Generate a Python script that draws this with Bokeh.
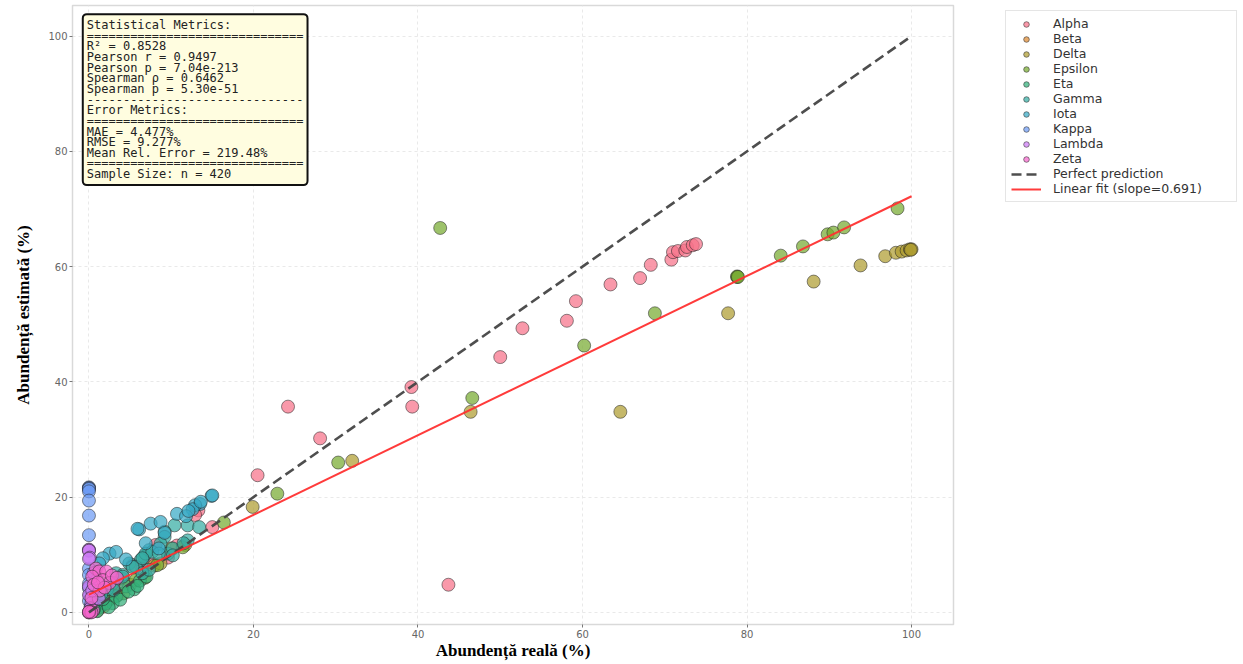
from bokeh.plotting import figure
from bokeh.models import Legend, LegendItem, Label, Range1d, FixedTicker
from bokeh.layouts import row
from bokeh.embed import file_html
from bokeh.resources import INLINE
from bokeh.core.properties import value

# ---------------- data ----------------
categories = ["Alpha", "Beta", "Delta", "Epsilon", "Eta", "Gamma", "Iota", "Kappa", "Lambda", "Zeta"]
colors = ["#f77189", "#dc8932", "#ae9d31", "#77ab31", "#33b07a", "#36ada4", "#38a9c5", "#6e9bf4", "#cc7af4", "#f565cc"]

alpha_x = [43.7, 24.2, 20.5, 28.1, 39.2, 39.3, 50.0, 52.7, 58.1, 59.2, 63.4, 67.0, 68.3, 70.8, 71.0, 71.6, 72.5, 72.7,
           73.4, 73.8, 15.0, 13.3, 12.9, 8.1, 5.3, 6.5, 9.6, 3.3, 2.0, 1.2, 4.0, 0.8, 10.7, 7.2, 0.3, 1.5]
alpha_y = [4.8, 35.7, 23.8, 30.2, 39.1, 35.7, 44.3, 49.3, 50.6, 54.0, 56.9, 58.0, 60.3, 61.2, 62.5, 62.7, 62.8, 63.4,
           63.7, 63.9, 14.8, 17.7, 16.9, 11.7, 8.2, 7.6, 9.5, 4.6, 3.1, 2.2, 5.9, 1.4, 11.6, 8.7, 0.9, 4.1]

beta_x = [0.5, 1.8, 2.6, 0.2, 3.5, 1.0]
beta_y = [1.2, 1.0, 2.3, 0.4, 3.0, 0.3]

delta_x = [46.4, 64.6, 77.7, 88.1, 93.8, 96.8, 98.1, 98.8, 99.4, 99.8, 100.0, 99.9, 19.9, 32.0, 10.0, 5.0, 3.0,
           7.9, 11.7, 8.7]
delta_y = [34.8, 34.8, 51.9, 57.4, 60.2, 61.8, 62.4, 62.6, 62.8, 63.0, 63.0, 62.9, 18.3, 26.3, 11.1, 4.8, 3.6,
           8.1, 11.7, 8.5]

epsilon_x = [42.7, 46.6, 60.2, 68.8, 78.8, 78.8, 78.9, 84.1, 86.8, 89.8, 90.5, 91.8, 98.3, 22.9, 16.4, 30.3,
             11.4, 8.3, 5.7, 2.8, 1.5, 4.2, 6.8]
epsilon_y = [66.7, 37.2, 46.3, 51.9, 58.2, 58.3, 58.2, 61.9, 63.5, 65.6, 65.9, 66.8, 70.1, 20.6, 15.6, 26.0,
             11.3, 8.2, 5.6, 2.5, 1.2, 3.3, 6.0]

eta_x = [4.5, 3.3, 2.9, 1.2, 2.0, 5.5, 6.2, 7.0, 3.8, 1.0, 0.6, 4.8, 2.4, 5.9, 1.7]
eta_y = [4.5, 2.8, 1.6, 0.8, 1.5, 4.0, 5.5, 6.2, 2.2, 0.2, 0.5, 3.6, 0.9, 4.6, 2.3]

gamma_x = [12.0, 13.4, 10.4, 9.2, 9.2, 12.0, 8.7, 9.6, 7.3, 6.7, 6.3, 4.9, 5.7, 3.3, 4.1, 6.5, 7.3, 6.9, 7.7,
           8.5, 10.2, 10.2, 6.5, 5.3, 4.1, 2.9, 2.2, 1.5, 3.0, 11.5]
gamma_y = [15.1, 14.8, 15.1, 14.0, 13.1, 12.5, 11.9, 10.2, 10.8, 9.7, 9.1, 8.5, 7.9, 6.8, 6.5, 6.8, 7.4, 10.2,
           10.5, 10.2, 11.1, 9.9, 9.4, 7.9, 6.2, 5.1, 4.0, 3.2, 3.9, 12.0]

iota_x = [14.9, 15.0, 13.5, 12.9, 12.6, 10.7, 11.8, 7.5, 8.7, 6.1, 5.9, 2.5, 1.7, 1.25, 3.3, 8.5, 9.2, 13.6,
          12.1, 0.8, 4.5, 6.9]
iota_y = [20.2, 20.3, 18.8, 18.6, 17.9, 17.1, 16.7, 15.4, 15.7, 14.4, 14.5, 10.2, 9.4, 8.5, 10.5, 11.1, 13.8,
          19.2, 17.6, 7.0, 9.2, 12.0]

kappa_x = [0.0, 0.0, 0.0, 0.0, 0.0, 0.0, 0.0, 0.0, 0.0, 0.0, 0.0, 0.1, 0.0, 0.2, 0.0]
kappa_y = [21.7, 21.6, 21.5, 21.4, 21.0, 19.4, 16.8, 13.4, 7.6, 6.5, 5.0, 3.0, 2.0, 1.0, 4.2]

lambda_x = [0.0, 0.0, 0.0, 0.1, 0.0, 0.0, 0.0, 0.3, 0.9, 0.6, 1.2, 0.2, 0.4]
lambda_y = [10.9, 10.8, 10.7, 9.5, 9.3, 4.5, 3.0, 1.6, 5.5, 6.8, 2.4, 0.7, 3.8]

zeta_x = [0.0, 0.85, 1.25, 2.1, 0.4, 1.7, 2.5, 0.2, 0.5, 0.1, 1.3, 0.6, 2.8, 1.9, 0.3, 3.4, 1.1, 0.0, 0.3, 0.0]
zeta_y = [0.0, 7.6, 7.1, 7.1, 6.2, 5.6, 5.1, 0.1, 0.3, 0.2, 3.8, 4.8, 6.4, 4.3, 2.5, 6.0, 5.2, 0.0, 0.0, 0.1]

series_x = [alpha_x, beta_x, delta_x, epsilon_x, eta_x, gamma_x, iota_x, kappa_x, lambda_x, zeta_x]
series_y = [alpha_y, beta_y, delta_y, epsilon_y, eta_y, gamma_y, iota_y, kappa_y, lambda_y, zeta_y]

fit_slope = 0.691
fit_intercept = 3.1

x_ticks = [0, 20, 40, 60, 80, 100]
y_ticks = [0, 20, 40, 60, 80, 100]

stats_lines = [
    "Statistical Metrics:",
    "=" * 30,
    "R\u00b2 = 0.8528",
    "Pearson r = 0.9497",
    "Pearson p = 7.04e-213",
    "Spearman \u03c1 = 0.6462",
    "Spearman p = 5.30e-51",
    "-" * 30,
    "Error Metrics:",
    "=" * 30,
    "MAE = 4.477%",
    "RMSE = 9.277%",
    "Mean Rel. Error = 219.48%",
    "=" * 30,
    "Sample Size: n = 420",
]

# ---------------- main figure ----------------
p = figure(width=1000, height=662, output_backend="svg", toolbar_location=None,
           x_range=Range1d(-2.0, 105.1), y_range=Range1d(-2.1, 105.3),
           min_border_left=72, min_border_right=47, min_border_top=5, min_border_bottom=30)

p.background_fill_color = "white"
p.border_fill_color = "white"
p.outline_line_color = "#d9d9d9"
p.outline_line_width = 1.5

p.xgrid.grid_line_color = "#e9e9e9"
p.ygrid.grid_line_color = "#e9e9e9"
p.xgrid.grid_line_dash = "3 3"
p.ygrid.grid_line_dash = "3 3"

for ax in (p.xaxis[0], p.yaxis[0]):
    ax.axis_line_color = None
    ax.major_tick_line_color = "#777777"
    ax.major_tick_out = 3
    ax.major_tick_in = 0
    ax.minor_tick_line_color = None
    ax.major_label_text_font = "DejaVu Sans"
    ax.major_label_text_font_size = "10px"
    ax.major_label_text_color = "#666666"
    ax.major_label_standoff = 2
    ax.axis_label_text_font = "Liberation Serif"
    ax.axis_label_text_font_style = "bold"
    ax.axis_label_text_font_size = "17px"
    ax.axis_label_text_color = "black"
    ax.axis_label_standoff = 0
p.yaxis[0].axis_label_standoff = 12

p.xaxis.ticker = FixedTicker(ticks=x_ticks)
p.yaxis.ticker = FixedTicker(ticks=y_ticks)
p.xaxis.axis_label = "Abunden\u021b\u0103 real\u0103 (%)"
p.yaxis.axis_label = "Abunden\u021b\u0103 estimat\u0103 (%)"

# legend lives in its own small figure to the right of the plot; its ranges lie far
# away from the data so only the legend swatches are visible there
lg = figure(width=240, height=662, output_backend="svg", toolbar_location=None,
            x_axis_type=None, y_axis_type=None, x_range=Range1d(1000, 1001), y_range=Range1d(1000, 1001),
            min_border_left=0, min_border_right=0, min_border_top=0, min_border_bottom=0)
lg.outline_line_color = None
lg.grid.visible = False
lg.background_fill_color = "white"
lg.border_fill_color = "white"

items = []
for name, col, xs, ys in zip(categories, colors, series_x, series_y):
    style = dict(marker="circle", size=13, fill_color=col, fill_alpha=0.72,
                 line_color="#222222", line_alpha=0.75, line_width=0.7)
    p.scatter(xs, ys, **style)
    r_l = lg.scatter(xs, ys, **style)
    items.append(LegendItem(label=name, renderers=[r_l]))

all_x = [v for xs in series_x for v in xs]
lo, hi = min(all_x), max(all_x)
perfect_style = dict(line_color="#444444", line_width=2.6, line_dash="10 5", line_alpha=0.95)
fit_style = dict(line_color="#ff3030", line_width=2.0, line_alpha=0.95)
p.line([lo, hi], [lo, hi], **perfect_style)
p.line([lo, hi], [fit_intercept + fit_slope * lo, fit_intercept + fit_slope * hi], **fit_style)
r_perfect = lg.line([lo, hi], [lo, hi], **perfect_style)
r_fit = lg.line([lo, hi], [fit_intercept + fit_slope * lo, fit_intercept + fit_slope * hi], **fit_style)
items.append(LegendItem(label="Perfect prediction", renderers=[r_perfect]))
items.append(LegendItem(label="Linear fit (slope=%.3f)" % fit_slope, renderers=[r_fit]))

legend = Legend(items=items, location="top_left")
legend.label_text_font = "DejaVu Sans"
legend.label_text_font_size = "12.5px"
legend.label_text_color = "#333333"
legend.glyph_width = 30
legend.glyph_height = 14
legend.label_height = 13
legend.label_width = 178
legend.spacing = 0
legend.label_standoff = 12
legend.padding = 5
legend.margin = 5
legend.border_line_color = "#cccccc"
legend.border_line_width = 1
legend.background_fill_color = "white"
legend.background_fill_alpha = 1.0
lg.add_layout(legend)

stats = Label(x=-0.75, y=103.8, text="\n".join(stats_lines),
              text_font="DejaVu Sans Mono", text_font_size="12px", text_color="#222222",
              text_align="left", text_baseline="top", text_line_height=0.76,
              background_fill_color="#fffde0", background_fill_alpha=1.0,
              border_line_color="#111111", border_line_width=2, padding=4, border_radius=4)
p.add_layout(stats)

layout = row(p, lg)
open("out.html", "w").write(file_html(layout, INLINE))
